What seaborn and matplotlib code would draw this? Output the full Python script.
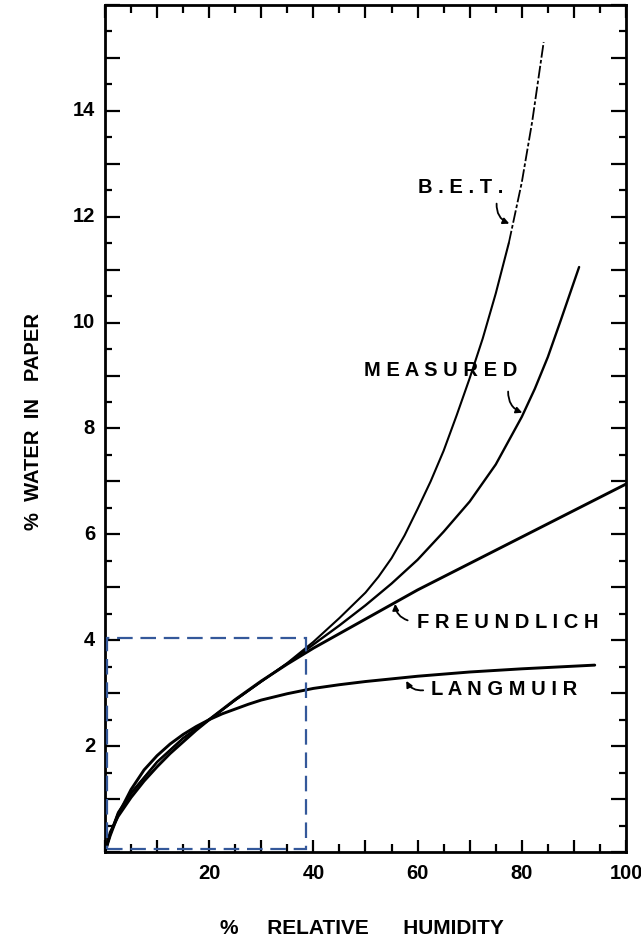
import matplotlib
matplotlib.use("Agg")
import matplotlib.pyplot as plt
from matplotlib.ticker import MultipleLocator, NullFormatter
from matplotlib.patches import Rectangle
import pandas as pd
import seaborn as sns

# values: % relative humidity vs % water in paper
rh_freundlich = [0, 1, 2.5, 5, 7.5, 10, 12.5, 15, 17.5, 20, 25, 30, 35, 40, 50, 60,
                 70, 80, 90, 100]
w_freundlich = [0, 0.37, 0.67, 1.03, 1.34, 1.61, 1.86, 2.08, 2.3, 2.5, 2.88, 3.23,
                3.55, 3.85, 4.4, 4.95, 5.45, 5.95, 6.45, 6.95]

rh_langmuir = [0, 1, 2.5, 5, 7.5, 10, 12.5, 15, 17.5, 20, 22.5, 25, 27.5, 30, 35,
               40, 45, 50, 60, 70, 80, 90, 94]
w_langmuir = [0, 0.31, 0.7, 1.18, 1.55, 1.82, 2.04, 2.22, 2.37, 2.5, 2.61, 2.7,
              2.79, 2.87, 2.99, 3.09, 3.16, 3.22, 3.32, 3.4, 3.46, 3.51, 3.53]

rh_measured = [0, 1, 2.5, 5, 10, 15, 20, 25, 30, 35, 40, 45, 50, 55, 60, 65, 70,
               75, 80, 82.5, 85, 87.5, 91]
w_measured = [0, 0.33, 0.72, 1.1, 1.7, 2.15, 2.5, 2.87, 3.22, 3.56, 3.92, 4.28,
              4.66, 5.07, 5.52, 6.05, 6.62, 7.32, 8.22, 8.75, 9.35, 10.05, 11.05]

rh_bet = [0, 1, 2.5, 5, 10, 15, 20, 25, 30, 35, 40, 45, 50, 52.5, 55, 57.5, 60,
          62.5, 65, 67.5, 70, 72.5, 75, 77.5, 80, 82, 84.2]
w_bet = [0, 0.35, 0.75, 1.12, 1.7, 2.15, 2.5, 2.87, 3.22, 3.57, 3.97, 4.42, 4.9,
         5.2, 5.55, 5.98, 6.48, 7.0, 7.58, 8.25, 8.95, 9.7, 10.55, 11.5, 12.65,
         13.8, 15.3]

x_ticklabels = ["20", "40", "60", "80", "100"]
y_ticklabels = ["2", "4", "6", "8", "10", "12", "14"]

# highlighted region (dashed box)
box_rh = 38.5
box_w = 4.05

sns.set_style("ticks")
plt.rcParams["font.family"] = ["Liberation Sans", "DejaVu Sans"]
plt.rcParams["text.color"] = "black"

fig = plt.figure(figsize=(6.41, 9.41), dpi=100)
ax = fig.add_axes([0.1638, 0.0946, 0.8128, 0.9001])

df_f = pd.DataFrame({"rh": rh_freundlich, "w": w_freundlich})
df_l = pd.DataFrame({"rh": rh_langmuir, "w": w_langmuir})
df_m = pd.DataFrame({"rh": rh_measured, "w": w_measured})
df_b = pd.DataFrame({"rh": rh_bet, "w": w_bet})

sns.lineplot(data=df_f, x="rh", y="w", ax=ax, color="black", lw=2.1, sort=False)
sns.lineplot(data=df_l, x="rh", y="w", ax=ax, color="black", lw=2.1, sort=False)
sns.lineplot(data=df_m, x="rh", y="w", ax=ax, color="black", lw=1.7, sort=False)
# B.E.T. solid up to the label, then broken
sns.lineplot(data=df_b[df_b.rh <= 77.5], x="rh", y="w", ax=ax, color="black",
             lw=1.5, sort=False)
sns.lineplot(data=df_b[df_b.rh >= 77.5], x="rh", y="w", ax=ax, color="black",
             lw=1.3, sort=False, linestyle=(0, (7, 1.3, 2, 1.3)))

ax.add_patch(Rectangle((0.4, 0.05), box_rh - 0.4, box_w - 0.05, fill=False,
                       edgecolor="#34589a", lw=1.6,
                       linestyle=(0, (7, 3.5)), zorder=5))

ax.set_xlim(0, 100)
ax.set_ylim(0, 16)

ax.xaxis.set_major_locator(MultipleLocator(10))
ax.xaxis.set_minor_locator(MultipleLocator(5))
ax.yaxis.set_major_locator(MultipleLocator(1))
ax.yaxis.set_minor_locator(MultipleLocator(0.5))
ax.xaxis.set_major_formatter(NullFormatter())
ax.yaxis.set_major_formatter(NullFormatter())

ax.tick_params(which="both", direction="in", top=True, right=True,
               width=1.6, color="black")
ax.tick_params(axis="y", which="major", length=11)
ax.tick_params(axis="y", which="minor", length=5)
ax.tick_params(axis="x", which="major", length=9)
ax.tick_params(axis="x", which="minor", length=6)

# numeric labels only every 20 / every 2
for i, lab in enumerate(x_ticklabels):
    ax.text(20 * (i + 1), -0.22, lab, ha="center", va="top", fontsize=14.5,
            fontweight="bold")
for i, lab in enumerate(y_ticklabels):
    ax.text(-1.9, 2 * (i + 1), lab, ha="right", va="center", fontsize=14.5,
            fontweight="bold")

for s in ax.spines.values():
    s.set_linewidth(2)
    s.set_color("black")

ax.set_xlabel("")
ax.set_ylabel("")
fig.text(0.565, 0.0128, "%     RELATIVE      HUMIDITY", ha="center",
         va="center", fontsize=15, fontweight="bold")
fig.text(0.0515, 0.5526, "%  WATER  IN   PAPER", ha="center",
         va="center", rotation=90, fontsize=14.5, fontweight="bold")

lab_kw = dict(fontsize=14.5, fontweight="bold")
arrow_kw = dict(arrowstyle="-|>", color="black", lw=1.3, mutation_scale=9)

ax.text(68.3, 12.55, "B . E . T .", ha="center", va="center", **lab_kw)
ax.annotate("", xy=(78.1, 11.85), xytext=(75.2, 12.3),
            arrowprops=dict(connectionstyle="arc3,rad=0.4", **arrow_kw))

ax.text(64.5, 9.09, " ".join("MEASURED"), ha="center", va="center", **lab_kw)
ax.annotate("", xy=(80.6, 8.28), xytext=(77.4, 8.75),
            arrowprops=dict(connectionstyle="arc3,rad=0.4", **arrow_kw))

ax.text(59.8, 4.34, " ".join("FREUNDLICH"), ha="left", va="center", **lab_kw)
ax.annotate("", xy=(55.7, 4.74), xytext=(58.6, 4.36),
            arrowprops=dict(connectionstyle="arc3,rad=-0.4", **arrow_kw))

ax.text(62.6, 3.06, " ".join("LANGMUIR"), ha="left", va="center", **lab_kw)
ax.annotate("", xy=(57.6, 3.28), xytext=(61.6, 3.06),
            arrowprops=dict(connectionstyle="arc3,rad=-0.4", **arrow_kw))

fig.savefig("out.png", dpi=100)
